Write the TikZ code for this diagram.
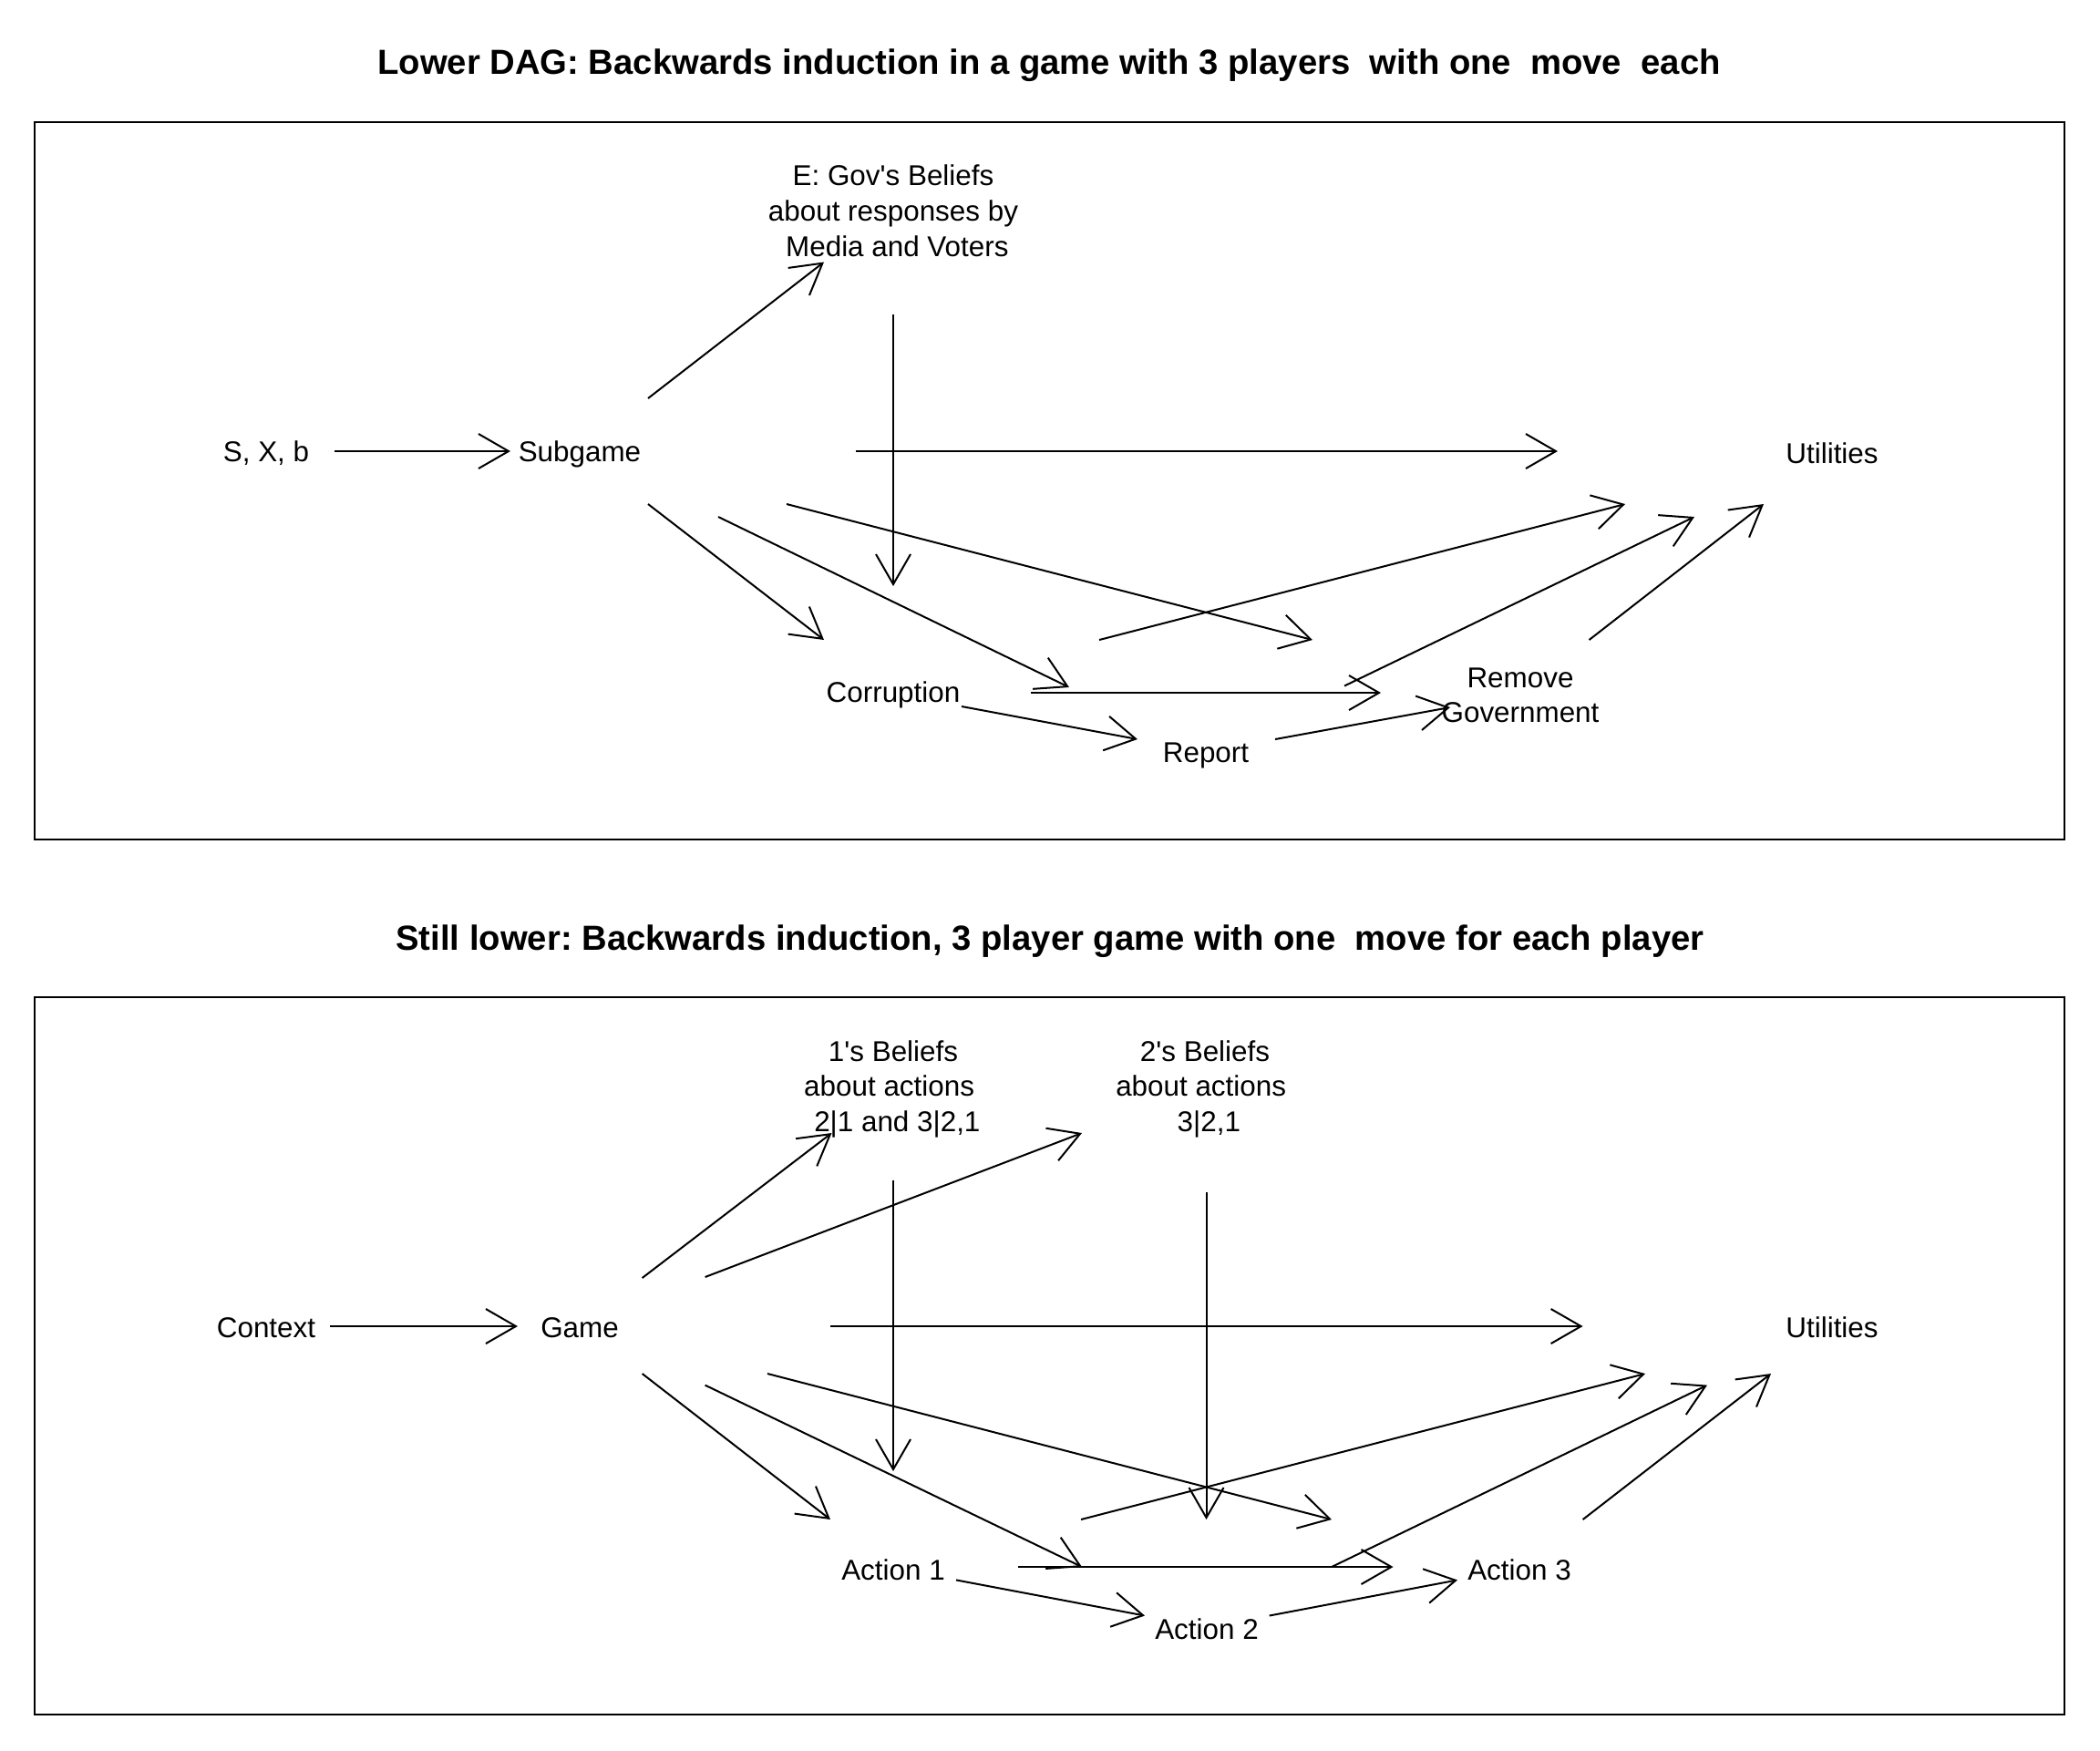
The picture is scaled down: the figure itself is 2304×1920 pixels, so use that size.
\documentclass[tikz,border=0pt]{standalone}
\usepackage{fontspec}
\setmainfont{Liberation Sans}[Ligatures=TeXOff]
\usetikzlibrary{arrows.meta}
\begin{document}
\frenchspacing
\begin{tikzpicture}[x=0.01cm,y=-0.01cm,
  lbl/.style={inner sep=0pt, anchor=base, align=center, font=\fontsize{8.93}{10.98}\selectfont},
  ttl/.style={inner sep=0pt, anchor=base, font=\fontsize{10.88}{13}\selectfont\bfseries},
  arr/.style={line width=0.02cm, -{Straight Barb[length=0.33cm,width=0.38cm]}},
  panel/.style={line width=0.02cm}]
\useasboundingbox[fill=white] (0,0) rectangle (2304,1920);

% ---------- titles ----------
\node[ttl] (t1) at (1151,81) {Lower DAG: Backwards induction in a game with 3 players\ \ with one\ \ move\ \ each};
\node[ttl] (t2) at (1152,1042) {Still lower: Backwards induction, 3 player game with one\ \ move for each player};

% ---------- frames ----------
\draw[panel] (38,134) rectangle (2265,921);
\draw[panel] (38,1094) rectangle (2265,1881);

% ---------- panel 1 nodes (base = baseline of last line) ----------
\node[lbl] (sxb) at (292,506) {S, X, b};
\node[lbl] (subgame) at (636,506) {Subgame};
\node[lbl] (egov) at (980,281.2) {E: Gov's Beliefs\\about responses by\\\mbox{}\ Media and Voters};
\node[lbl] (util1) at (2010,508) {Utilities};
\node[lbl] (corr) at (980,770) {Corruption};
\node[lbl] (report) at (1323,836) {Report};
\node[lbl] (remgov) at (1668,792.6) {Remove\\Government};

% ---------- panel 1 connectors ----------
\draw[arr] ([shift={(75,-11)}]sxb.base) -- ([shift={(-76,-11)}]subgame.base);
\draw[arr] ([shift={(75,-69)}]subgame.base) -- ([shift={(-76,6.3)}]egov.base);
\draw[arr] ([shift={(0,63.8)}]egov.base) -- ([shift={(0,-127)}]corr.base);
\draw[arr] ([shift={(303,-11)}]subgame.base) -- ([shift={(-301,-13)}]util1.base);
\draw[arr] ([shift={(75,47)}]subgame.base) -- ([shift={(-76,-68)}]corr.base);
\draw[arr] ([shift={(152,61)}]subgame.base) -- ([shift={(-150,-82)}]report.base);
\draw[arr] ([shift={(227,47)}]subgame.base) -- ([shift={(-228,-90.6)}]remgov.base);
\draw[arr] ([shift={(75,5)}]corr.base) -- ([shift={(-75,-25)}]report.base);
\draw[arr] ([shift={(151,-10)}]corr.base) -- ([shift={(-153,-32.6)}]remgov.base);
\draw[arr] ([shift={(226,-68)}]corr.base) -- ([shift={(-227,45)}]util1.base);
\draw[arr] ([shift={(152,-83.5)}]report.base) -- ([shift={(-151,59)}]util1.base);
\draw[arr] ([shift={(75.5,-90.6)}]remgov.base) -- ([shift={(-75,45)}]util1.base);
\draw[arr] ([shift={(76,-25)}]report.base) -- ([shift={(-77,-16.6)}]remgov.base);

% ---------- panel 2 nodes ----------
\node[lbl] (context) at (292,1467) {Context};
\node[lbl] (game) at (636,1467) {Game};
\node[lbl] (bel1) at (980,1241.2) {1's Beliefs\\about actions\ \mbox{}\\\mbox{}\ 2|1 and 3|2,1};
\node[lbl] (bel2) at (1322,1241.2) {2's Beliefs\\about actions\ \mbox{}\\\mbox{}\ 3|2,1};
\node[lbl] (util2) at (2010,1467) {Utilities};
\node[lbl] (act1) at (980,1733) {Action 1};
\node[lbl] (act2) at (1324,1798) {Action 2};
\node[lbl] (act3) at (1667,1733) {Action 3};

% ---------- panel 2 connectors ----------
\draw[arr] ([shift={(69.5,-12)}]context.base) -- ([shift={(-68,-12)}]game.base);
\draw[arr] ([shift={(68.6,-65)}]game.base) -- ([shift={(-67.5,1.8)}]bel1.base);
\draw[arr] ([shift={(137.6,-66)}]game.base) -- ([shift={(-135,1.8)}]bel2.base);
\draw[arr] ([shift={(0,53.4)}]bel1.base) -- ([shift={(0,-119)}]act1.base);
\draw[arr] ([shift={(275,-12)}]game.base) -- ([shift={(-273.4,-12)}]util2.base);
\draw[arr] ([shift={(68.6,40)}]game.base) -- ([shift={(-69,-66)}]act1.base);
\draw[arr] ([shift={(137.6,52.6)}]game.base) -- ([shift={(-137,-79)}]act2.base);
\draw[arr] ([shift={(206,40)}]game.base) -- ([shift={(-206,-66)}]act3.base);
\draw[arr] ([shift={(69,0.4)}]act1.base) -- ([shift={(-68,-25.5)}]act2.base);
\draw[arr] ([shift={(137,-14)}]act1.base) -- ([shift={(-138.5,-14)}]act3.base);
\draw[arr] ([shift={(206,-66)}]act1.base) -- ([shift={(-205,40)}]util2.base);
\draw[arr] ([shift={(1.5,66.8)}]bel2.base) -- ([shift={(-0.5,-131)}]act2.base);
\draw[arr] ([shift={(137,-79)}]act2.base) -- ([shift={(-137,52.6)}]util2.base);
\draw[arr] ([shift={(69.6,-66)}]act3.base) -- ([shift={(-67,40)}]util2.base);
\draw[arr] ([shift={(68.6,-25.5)}]act2.base) -- ([shift={(-68,0.4)}]act3.base);
\end{tikzpicture}
\end{document}
